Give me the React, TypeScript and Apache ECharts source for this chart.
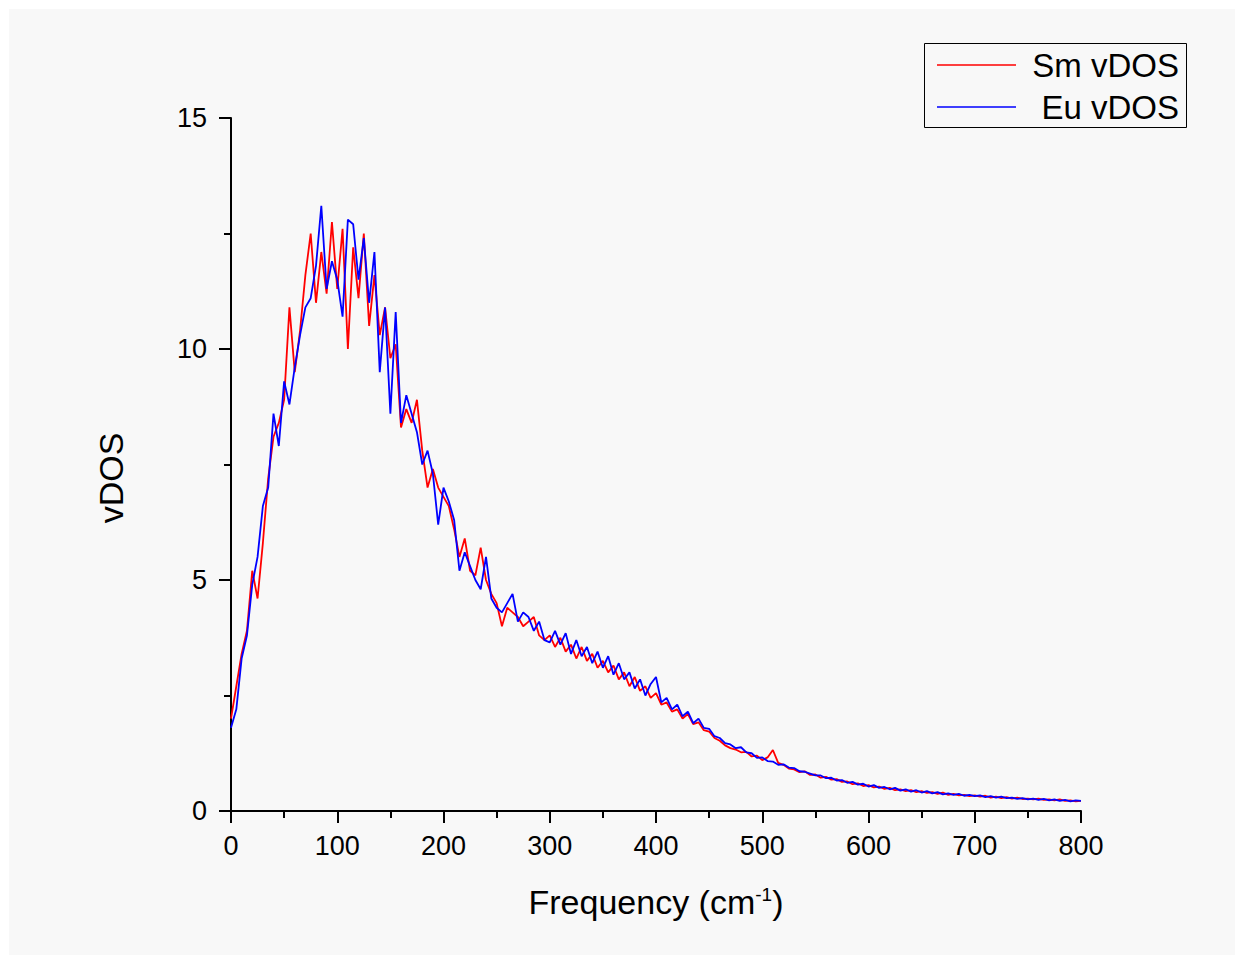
import React, { useEffect, useRef } from "react";
import * as echarts from "echarts";

const frequency = [
  0, 5, 10, 15, 20, 25, 30, 35, 40, 45, 50, 55, 60, 65, 70, 75, 80, 85, 90, 95,
  100, 105, 110, 115, 120, 125, 130, 135, 140, 145, 150, 155, 160, 165, 170, 175, 180, 185, 190, 195,
  200, 205, 210, 215, 220, 225, 230, 235, 240, 245, 250, 255, 260, 265, 270, 275, 280, 285, 290, 295,
  300, 305, 310, 315, 320, 325, 330, 335, 340, 345, 350, 355, 360, 365, 370, 375, 380, 385, 390, 395,
  400, 405, 410, 415, 420, 425, 430, 435, 440, 445, 450, 455, 460, 465, 470, 475, 480, 485, 490, 495,
  500, 505, 510, 515, 520, 525, 530, 535, 540, 545, 550, 555, 560, 565, 570, 575, 580, 585, 590, 595,
  600, 605, 610, 615, 620, 625, 630, 635, 640, 645, 650, 655, 660, 665, 670, 675, 680, 685, 690, 695,
  700, 705, 710, 715, 720, 725, 730, 735, 740, 745, 750, 755, 760, 765, 770, 775, 780, 785, 790, 795,
  800,
];

const smVdos = [
  2.0, 2.7, 3.4, 3.9, 5.2, 4.6, 5.8, 7.2, 8.1, 8.4, 8.9, 10.9, 9.5, 10.4, 11.6, 12.5, 11.0, 12.1, 11.2, 12.75,
  11.3, 12.6, 10.0, 12.2, 11.1, 12.5, 10.5, 11.6, 10.3, 10.9, 9.8, 10.1, 8.3, 8.7, 8.4, 8.9, 7.8, 7.0, 7.4, 7.0,
  6.8, 6.6, 6.1, 5.5, 5.9, 5.2, 5.1, 5.7, 5.0, 4.7, 4.5, 4.0, 4.4, 4.3, 4.2, 4.0, 4.1, 4.2, 3.8, 3.7,
  3.8, 3.55, 3.75, 3.45, 3.6, 3.3, 3.55, 3.25, 3.4, 3.1, 3.25, 3.0, 3.15, 2.85, 3.0, 2.7, 2.9, 2.6, 2.7, 2.45,
  2.55, 2.3, 2.35, 2.15, 2.2, 2.0, 2.1, 1.88, 1.92, 1.75, 1.72, 1.58, 1.52, 1.42, 1.36, 1.33, 1.27, 1.28, 1.18, 1.2,
  1.1, 1.16, 1.32, 1.04, 1.0, 0.92, 0.9, 0.84, 0.86, 0.78, 0.79, 0.72, 0.74, 0.68, 0.69, 0.63, 0.64, 0.58, 0.6, 0.54,
  0.56, 0.51, 0.53, 0.48, 0.5, 0.45, 0.47, 0.43, 0.45, 0.41, 0.43, 0.39, 0.41, 0.37, 0.4, 0.35, 0.37, 0.34, 0.35, 0.32,
  0.34, 0.31, 0.33, 0.29, 0.31, 0.28, 0.3, 0.27, 0.29, 0.26, 0.27, 0.25, 0.27, 0.24, 0.25, 0.23, 0.25, 0.22, 0.23, 0.21,
  0.22,
];

const euVdos = [
  1.8, 2.2, 3.3, 3.8, 4.9, 5.5, 6.6, 7.0, 8.6, 7.9, 9.3, 8.8, 9.6, 10.3, 10.9, 11.1, 11.8, 13.1, 11.3, 11.9,
  11.5, 10.7, 12.8, 12.7, 11.5, 12.4, 11.0, 12.1, 9.5, 10.9, 8.6, 10.8, 8.4, 9.0, 8.6, 8.2, 7.5, 7.8, 7.3, 6.2,
  7.0, 6.7, 6.3, 5.2, 5.6, 5.3, 5.0, 4.8, 5.5, 4.6, 4.4, 4.3, 4.5, 4.7, 4.1, 4.3, 4.2, 3.9, 4.1, 3.7,
  3.65, 3.9, 3.6, 3.85, 3.4, 3.7, 3.35, 3.55, 3.2, 3.45, 3.1, 3.35, 2.95, 3.2, 2.85, 3.0, 2.65, 2.85, 2.5, 2.75,
  2.9, 2.35, 2.45, 2.2, 2.3, 2.05, 2.15, 1.9, 2.0, 1.8, 1.78, 1.62, 1.58, 1.47, 1.44, 1.36, 1.38, 1.27, 1.25, 1.15,
  1.16, 1.08, 1.07, 1.0, 1.01, 0.94, 0.93, 0.86, 0.85, 0.81, 0.77, 0.77, 0.71, 0.72, 0.66, 0.67, 0.61, 0.63, 0.57, 0.59,
  0.53, 0.56, 0.5, 0.52, 0.47, 0.5, 0.44, 0.47, 0.42, 0.45, 0.4, 0.43, 0.38, 0.41, 0.36, 0.38, 0.35, 0.37, 0.33, 0.35,
  0.32, 0.34, 0.3, 0.32, 0.29, 0.31, 0.28, 0.29, 0.26, 0.28, 0.25, 0.27, 0.24, 0.26, 0.23, 0.25, 0.22, 0.24, 0.21, 0.23,
  0.22,
];

const seriesNames = ["Sm vDOS", "Eu vDOS"];
const seriesColors = ["#ff0000", "#0000ff"];
const xTitle = "Frequency (cm";
const xTitleSup = "-1";
const yTitle = "vDOS";

const FONT = "'Liberation Sans', Arial, sans-serif";

export default function App() {
  const ref = useRef<HTMLDivElement>(null);

  useEffect(() => {
    if (!ref.current) return;
    const chart = echarts.init(ref.current, null, { renderer: "svg" });
    const pair = (ys: number[]) => frequency.map((x, i) => [x, ys[i]]);

    chart.setOption({
      animation: false,
      backgroundColor: "#ffffff",
      grid: { left: 231, right: 163, top: 118, bottom: 153, containLabel: false },
      xAxis: {
        type: "value",
        min: 0,
        max: 800,
        interval: 100,
        name: `${xTitle}{sup|${xTitleSup}}{main|)}`,
        nameLocation: "middle",
        nameGap: 74,
        nameTextStyle: {
          fontFamily: FONT,
          fontSize: 34,
          color: "#000",
          rich: {
            sup: { fontFamily: FONT, fontSize: 19, color: "#000", verticalAlign: "top", padding: [0, 0, 13, 0] },
            main: { fontFamily: FONT, fontSize: 34, color: "#000" },
          },
        },
        axisLine: { show: true, onZero: false, lineStyle: { color: "#000", width: 2 } },
        axisTick: { show: true, inside: false, length: 12, lineStyle: { color: "#000", width: 2 } },
        minorTick: { show: true, splitNumber: 2, length: 7, lineStyle: { color: "#000", width: 2 } },
        axisLabel: { fontFamily: FONT, fontSize: 27, color: "#000", margin: 21 },
        splitLine: { show: false },
        minorSplitLine: { show: false },
      },
      yAxis: {
        type: "value",
        min: 0,
        max: 15,
        interval: 5,
        axisLine: { show: true, onZero: false, lineStyle: { color: "#000", width: 2 } },
        axisTick: { show: true, inside: false, length: 12, lineStyle: { color: "#000", width: 2 } },
        minorTick: { show: true, splitNumber: 2, length: 7, lineStyle: { color: "#000", width: 2 } },
        axisLabel: { fontFamily: FONT, fontSize: 27, color: "#000", margin: 24 },
        splitLine: { show: false },
        minorSplitLine: { show: false },
      },
      graphic: [
        {
          type: "rect",
          z: -10,
          silent: true,
          shape: { x: 9, y: 9, width: 1226, height: 946 },
          style: { fill: "#f8f8f8" },
        },
        {
          type: "text",
          x: 111,
          y: 478,
          rotation: Math.PI / 2,
          style: {
            text: yTitle,
            fontFamily: FONT,
            fontSize: 34,
            fill: "#000",
            align: "center",
            verticalAlign: "middle",
          },
        },
        {
          type: "rect",
          shape: { x: 924.5, y: 43.5, width: 262, height: 84 },
          style: { fill: "none", stroke: "#000", lineWidth: 1 },
        },
        {
          type: "line",
          shape: { x1: 937, y1: 65, x2: 1016, y2: 65 },
          style: { stroke: seriesColors[0], lineWidth: 1.5 },
        },
        {
          type: "line",
          shape: { x1: 937, y1: 107, x2: 1016, y2: 107 },
          style: { stroke: seriesColors[1], lineWidth: 1.5 },
        },
        {
          type: "text",
          x: 1179,
          y: 65,
          style: {
            text: seriesNames[0],
            fontFamily: FONT,
            fontSize: 33,
            fill: "#000",
            align: "right",
            verticalAlign: "middle",
          },
        },
        {
          type: "text",
          x: 1179,
          y: 107,
          style: {
            text: seriesNames[1],
            fontFamily: FONT,
            fontSize: 33,
            fill: "#000",
            align: "right",
            verticalAlign: "middle",
          },
        },
      ],
      series: [
        {
          name: seriesNames[0],
          type: "line",
          data: pair(smVdos),
          showSymbol: false,
          symbol: "none",
          lineStyle: { color: seriesColors[0], width: 1.8 },
          itemStyle: { color: seriesColors[0] },
          z: 2,
        },
        {
          name: seriesNames[1],
          type: "line",
          data: pair(euVdos),
          showSymbol: false,
          symbol: "none",
          lineStyle: { color: seriesColors[1], width: 1.8 },
          itemStyle: { color: seriesColors[1] },
          z: 3,
        },
      ],
    });

    return () => chart.dispose();
  }, []);

  return (
    <div
      ref={ref}
      style={{ position: "absolute", left: 0, top: 0, width: 1244, height: 964 }}
    />
  );
}
